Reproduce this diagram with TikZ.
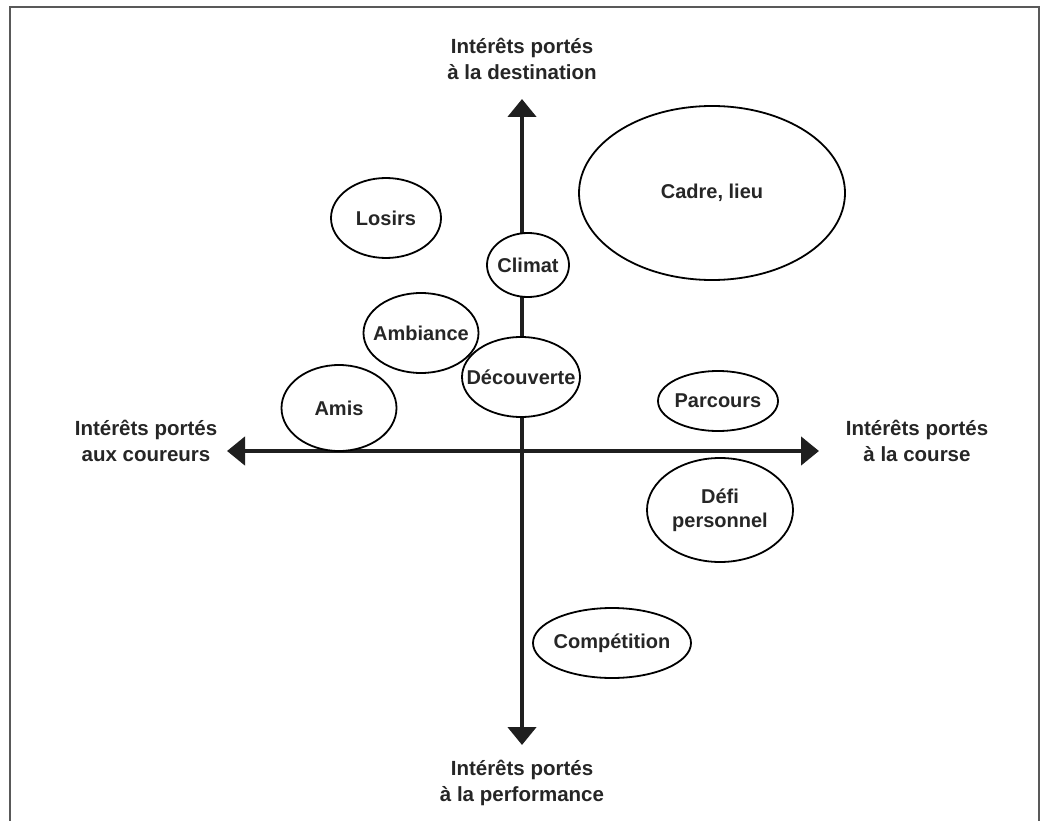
\documentclass[tikz,border=0pt]{standalone}
\usepackage{fontspec}
\setmainfont{Liberation Sans}
\usetikzlibrary{shapes.geometric,arrows.meta}
\tikzset{
  bub/.style 2 args={ellipse, draw=black, line width=1.8pt, fill=white, inner sep=0pt,
    minimum width=#1, minimum height=#2},
  bubtext/.style={font=\fontsize{20}{24}\selectfont\bfseries, text=black!85, align=center, inner sep=0pt},
  axlab/.style={align=center, font=\fontsize{20.5}{26.5}\selectfont\bfseries, text=black!85, inner sep=0pt},
  axis/.style={line width=4.5pt, black!88, {Triangle[width=28pt,length=18pt]}-{Triangle[width=28pt,length=18pt]}},
  frame/.style={line width=2.5pt, black!65}
}
\begin{document}
\begin{tikzpicture}[x=1pt,y=-1pt]
\useasboundingbox (0,0) rectangle (1044,821);
\draw[frame] (10,822) -- (10,7) -- (1039,7) -- (1039,822);
\coordinate (N) at (522,99);
\coordinate (S) at (522,745);
\coordinate (W) at (227,451);
\coordinate (E) at (819,451);
\draw[axis] (S) -- (N);
\draw[axis] (W) -- (E);
\node[axlab] (tN) at (522,59) {Intérêts portés\\à la destination};
\node[axlab] (tS) at (522,783) {Intérêts portés\\à la performance};
\node[axlab] (tW) at (146,441) {Intérêts portés\\aux coureurs};
\node[axlab] (tE) at (917,441) {Intérêts portés\\à la course};
\node[bub={110pt}{80pt}] (losirs) at (386,218) {};
\node[bubtext] (losirsT) at (losirs.center) {Losirs};
\node[bub={266pt}{174pt}] (cadre) at (712,193) {};
\node[bubtext] (cadreT) at (cadre.center) {Cadre, lieu};
\node[bub={82pt}{64pt}] (climat) at (528,265) {};
\node[bubtext] (climatT) at (climat.center) {Climat};
\node[bub={115pt}{80pt}] (ambiance) at (421,333) {};
\node[bubtext] (ambianceT) at (ambiance.center) {Ambiance};
\node[bub={118pt}{80pt}] (decouverte) at (521,377) {};
\node[bubtext] (decouverteT) at (decouverte.center) {Découverte};
\node[bub={115pt}{86pt}] (amis) at (339,408) {};
\node[bubtext] (amisT) at (amis.center) {Amis};
\node[bub={120pt}{60pt}] (parcours) at (718,401) {};
\node[bubtext] (parcoursT) at (parcours.center) {Parcours};
\node[bub={146pt}{104pt}] (defi) at (720,510) {};
\node[bubtext] (defiT) at (defi.center) {Défi\\personnel};
\node[bub={158pt}{70pt}] (competition) at (612,643) {};
\node[bubtext] (competitionT) at (competition.center) {Compétition};
\end{tikzpicture}
\end{document}
